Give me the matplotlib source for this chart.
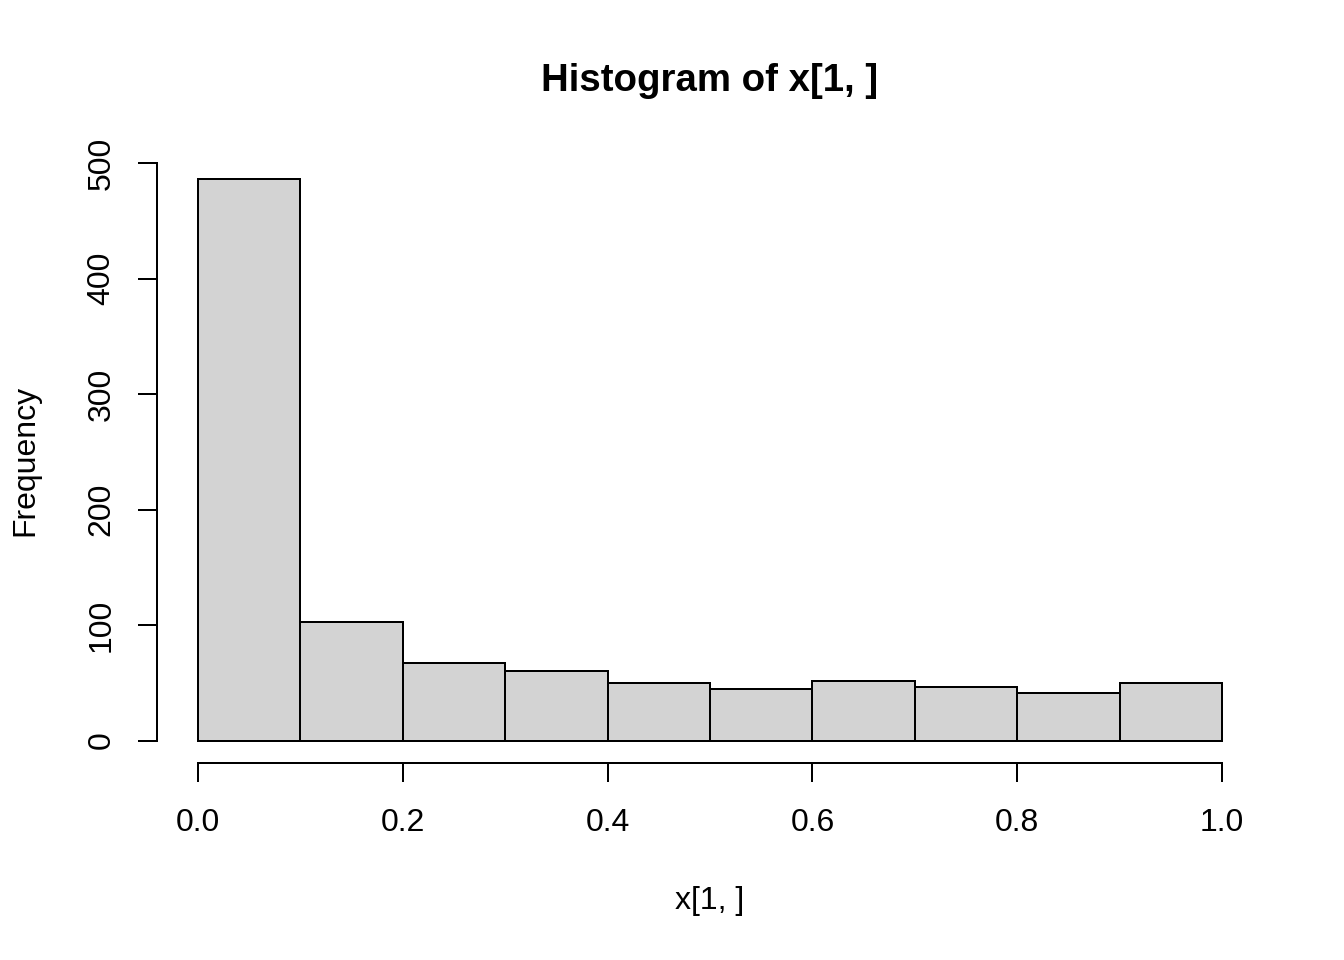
import numpy as np
import matplotlib.pyplot as plt

plt.rcParams['font.family'] = ['Liberation Sans', 'DejaVu Sans']

bin_edges = [0.0, 0.1, 0.2, 0.3, 0.4, 0.5, 0.6, 0.7, 0.8, 0.9, 1.0]
counts = [486, 103, 67, 60, 50, 45, 52, 46, 41, 50]
x_ticks = [0.0, 0.2, 0.4, 0.6, 0.8, 1.0]
y_ticks = [0, 100, 200, 300, 400, 500]

W, H = 1344, 960
fig = plt.figure(figsize=(7, 5), dpi=192)
ax = fig.add_axes([157 / W, (H - 763) / H, 1106 / W, 606 / H])

lefts = np.array(bin_edges[:-1])
widths = np.diff(bin_edges)
ax.bar(lefts, counts, width=widths, align='edge', color='#D3D3D3',
       edgecolor='black', linewidth=0.75)

# R style: 4% range expansion, axis lines only over tick span
ax.set_xlim(-0.04, 1.04)
top = max(counts)
ax.set_ylim(-0.04 * top, top * 1.04)
ax.set_xticks(x_ticks)
ax.set_xticklabels(['%.1f' % v for v in x_ticks])
ax.set_yticks(y_ticks)
ax.set_yticklabels([str(v) for v in y_ticks], rotation=90, va='center')

for s in ['top', 'right']:
    ax.spines[s].set_visible(False)
ax.spines['bottom'].set_bounds(x_ticks[0], x_ticks[-1])
ax.spines['left'].set_bounds(y_ticks[0], y_ticks[-1])
for s in ['bottom', 'left']:
    ax.spines[s].set_linewidth(0.75)
ax.tick_params(direction='out', length=7.2, width=0.75, labelsize=12)
ax.tick_params(axis='x', pad=9.8)
ax.tick_params(axis='y', pad=8)

fig.text(710 / W, 1 - 81 / H, 'Histogram of x[1, ]', ha='center', va='center',
         fontsize=14.4, fontweight='bold')
fig.text(710 / W, 1 - 901 / H, 'x[1, ]', ha='center', va='center', fontsize=12)
fig.text(25 / W, 1 - 460 / H, 'Frequency', ha='center', va='center',
         fontsize=12, rotation=90)

fig.savefig('out.png', dpi=192)
